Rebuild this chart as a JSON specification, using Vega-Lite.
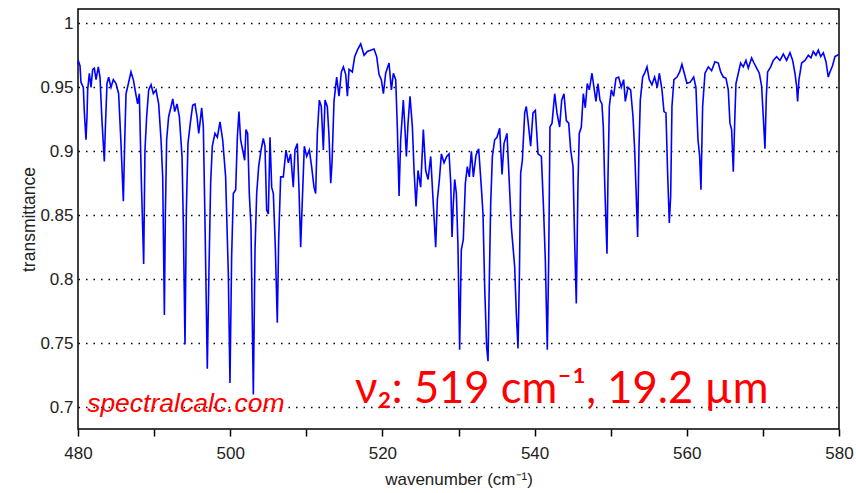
{
"$schema":"https://vega.github.io/schema/vega-lite/v6.json",
"width":761,"height":420,
"autosize":"none",
"padding":{"left":78,"top":9,"right":17,"bottom":64},
"background":"#ffffff",
"config":{"view":{"stroke":"#000000","strokeWidth":1.5},"font":"Liberation Sans"},
"encoding":{
 "x":{"field":"wn","type":"quantitative","scale":{"domain":[480,580],"nice":false},
  "axis":{"values":[480,490,500,510,520,530,540,550,560,570,580],"labelExpr":"datum.value % 20 === 0 ? datum.label : ''","labelOverlap":false,"labelFlush":false,"grid":false,"domain":false,"tickSize":7,"tickColor":"#000000","tickWidth":1.5,"labelFontSize":17,"labelColor":"#222222","labelPadding":9,"title":"wavenumber (cm⁻¹)","titleFontSize":17,"titleFontWeight":"normal","titleColor":"#222222","titlePadding":10}},
 "y":{"field":"t","type":"quantitative","scale":{"domain":[0.683,1.0112],"nice":false,"zero":false},
  "axis":{"values":[0.7,0.75,0.8,0.85,0.9,0.95,1],"format":"~g","grid":true,"gridDash":[1.5,6],"gridColor":"#000000","gridWidth":1.3,"ticks":false,"domain":false,"labelFontSize":17,"labelColor":"#222222","labelPadding":5,"title":"transmittance","titleFontSize":17.5,"titleFontWeight":"normal","titleColor":"#222222","titlePadding":1}}
},
"layer":[
{"data":{"values":[
{"wn":480.0,"t":0.968},{"wn":480.09,"t":0.970},{"wn":480.26,"t":0.967},{"wn":480.39,"t":0.954},{"wn":480.70,"t":0.950},{"wn":480.83,"t":0.931},{"wn":481.05,"t":0.909},{"wn":481.18,"t":0.927},{"wn":481.27,"t":0.948},{"wn":481.49,"t":0.961},{"wn":481.71,"t":0.950},{"wn":481.93,"t":0.964},{"wn":482.15,"t":0.965},{"wn":482.37,"t":0.956},{"wn":482.67,"t":0.966},{"wn":482.89,"t":0.958},{"wn":483.15,"t":0.924},{"wn":483.46,"t":0.892},{"wn":483.59,"t":0.917},{"wn":483.81,"t":0.953},{"wn":484.03,"t":0.958},{"wn":484.34,"t":0.950},{"wn":484.64,"t":0.956},{"wn":484.99,"t":0.953},{"wn":485.34,"t":0.945},{"wn":485.65,"t":0.906},{"wn":485.96,"t":0.861},{"wn":486.13,"t":0.906},{"wn":486.31,"t":0.945},{"wn":486.66,"t":0.954},{"wn":486.96,"t":0.962},{"wn":487.27,"t":0.956},{"wn":487.62,"t":0.944},{"wn":487.84,"t":0.937},{"wn":488.06,"t":0.945},{"wn":488.32,"t":0.878},{"wn":488.63,"t":0.812},{"wn":488.80,"t":0.901},{"wn":489.02,"t":0.927},{"wn":489.29,"t":0.948},{"wn":489.60,"t":0.952},{"wn":489.90,"t":0.945},{"wn":490.25,"t":0.948},{"wn":490.60,"t":0.937},{"wn":490.91,"t":0.909},{"wn":491.13,"t":0.880},{"wn":491.35,"t":0.772},{"wn":491.48,"t":0.851},{"wn":491.65,"t":0.909},{"wn":491.91,"t":0.927},{"wn":492.23,"t":0.935},{"wn":492.45,"t":0.941},{"wn":492.71,"t":0.931},{"wn":493.01,"t":0.937},{"wn":493.32,"t":0.927},{"wn":493.67,"t":0.896},{"wn":493.84,"t":0.844},{"wn":494.06,"t":0.749},{"wn":494.24,"t":0.854},{"wn":494.45,"t":0.906},{"wn":494.76,"t":0.922},{"wn":495.07,"t":0.936},{"wn":495.37,"t":0.937},{"wn":495.64,"t":0.927},{"wn":495.86,"t":0.914},
{"wn":496.03,"t":0.922},{"wn":496.25,"t":0.934},{"wn":496.47,"t":0.919},{"wn":496.69,"t":0.844},{"wn":496.99,"t":0.730},{"wn":497.21,"t":0.807},{"wn":497.43,"t":0.875},{"wn":497.65,"t":0.904},{"wn":498.00,"t":0.914},{"wn":498.31,"t":0.911},{"wn":498.66,"t":0.923},{"wn":499.01,"t":0.909},{"wn":499.40,"t":0.880},{"wn":499.75,"t":0.805},{"wn":499.97,"t":0.719},{"wn":500.19,"t":0.818},{"wn":500.41,"t":0.867},{"wn":500.72,"t":0.870},{"wn":500.94,"t":0.911},{"wn":501.15,"t":0.931},{"wn":501.37,"t":0.909},{"wn":501.64,"t":0.901},{"wn":501.90,"t":0.893},{"wn":502.07,"t":0.917},{"wn":502.29,"t":0.914},{"wn":502.51,"t":0.867},{"wn":502.73,"t":0.841},{"wn":503.04,"t":0.710},{"wn":503.26,"t":0.823},{"wn":503.48,"t":0.867},{"wn":503.74,"t":0.888},{"wn":504.05,"t":0.901},{"wn":504.35,"t":0.910},{"wn":504.57,"t":0.904},{"wn":504.79,"t":0.854},{"wn":505.01,"t":0.851},{"wn":505.23,"t":0.911},{"wn":505.45,"t":0.872},{"wn":505.67,"t":0.867},{"wn":505.93,"t":0.825},{"wn":506.19,"t":0.766},{"wn":506.37,"t":0.831},{"wn":506.63,"t":0.880},{"wn":506.98,"t":0.880},{"wn":507.33,"t":0.901},{"wn":507.64,"t":0.891},{"wn":507.94,"t":0.898},{"wn":508.29,"t":0.872},{"wn":508.51,"t":0.901},{"wn":508.82,"t":0.906},{"wn":509.04,"t":0.870},{"wn":509.26,"t":0.825},{"wn":509.48,"t":0.862},{"wn":509.74,"t":0.904},{"wn":510.05,"t":0.896},{"wn":510.40,"t":0.901},{"wn":510.70,"t":0.888},{"wn":511.01,"t":0.872},{"wn":511.23,"t":0.867},{"wn":511.45,"t":0.914},{"wn":511.71,"t":0.940},{"wn":511.97,"t":0.935},{"wn":512.24,"t":0.901},{"wn":512.46,"t":0.940},{"wn":512.76,"t":0.935},{"wn":512.99,"t":0.911},
{"wn":513.21,"t":0.875},{"wn":513.38,"t":0.891},{"wn":513.64,"t":0.939},{"wn":513.99,"t":0.958},{"wn":514.30,"t":0.943},{"wn":514.61,"t":0.962},{"wn":514.87,"t":0.966},{"wn":515.18,"t":0.960},{"wn":515.40,"t":0.943},{"wn":515.62,"t":0.964},{"wn":516.05,"t":0.962},{"wn":516.36,"t":0.974},{"wn":516.71,"t":0.979},{"wn":517.15,"t":0.984},{"wn":517.59,"t":0.975},{"wn":518.02,"t":0.978},{"wn":518.46,"t":0.979},{"wn":518.90,"t":0.980},{"wn":519.25,"t":0.974},{"wn":519.56,"t":0.960},{"wn":519.86,"t":0.956},{"wn":520.13,"t":0.945},{"wn":520.43,"t":0.961},{"wn":520.87,"t":0.969},{"wn":521.18,"t":0.948},{"wn":521.44,"t":0.961},{"wn":521.75,"t":0.956},{"wn":521.97,"t":0.917},{"wn":522.19,"t":0.865},{"wn":522.40,"t":0.909},{"wn":522.75,"t":0.940},{"wn":522.97,"t":0.917},{"wn":523.15,"t":0.896},{"wn":523.37,"t":0.922},{"wn":523.63,"t":0.943},{"wn":523.94,"t":0.919},{"wn":524.16,"t":0.885},{"wn":524.42,"t":0.857},{"wn":524.68,"t":0.885},{"wn":525.03,"t":0.872},{"wn":525.38,"t":0.917},{"wn":525.69,"t":0.885},{"wn":526.00,"t":0.878},{"wn":526.35,"t":0.896},{"wn":526.61,"t":0.867},{"wn":526.83,"t":0.844},{"wn":527.00,"t":0.825},{"wn":527.22,"t":0.862},{"wn":527.49,"t":0.878},{"wn":527.75,"t":0.898},{"wn":528.10,"t":0.891},{"wn":528.45,"t":0.896},{"wn":528.76,"t":0.898},{"wn":528.98,"t":0.875},
{"wn":529.15,"t":0.833},{"wn":529.32,"t":0.859},{"wn":529.50,"t":0.878},{"wn":529.72,"t":0.867},{"wn":529.93,"t":0.826},{"wn":530.15,"t":0.745},{"wn":530.37,"t":0.823},{"wn":530.63,"t":0.831},{"wn":530.90,"t":0.875},{"wn":531.16,"t":0.888},{"wn":531.42,"t":0.880},{"wn":531.69,"t":0.900},{"wn":531.95,"t":0.880},{"wn":532.30,"t":0.897},{"wn":532.65,"t":0.902},{"wn":533.00,"t":0.872},{"wn":533.22,"t":0.851},{"wn":533.44,"t":0.794},{"wn":533.70,"t":0.747},{"wn":533.88,"t":0.736},{"wn":534.05,"t":0.799},{"wn":534.23,"t":0.859},{"wn":534.45,"t":0.896},{"wn":534.75,"t":0.909},{"wn":535.06,"t":0.911},{"wn":535.41,"t":0.918},{"wn":535.72,"t":0.882},{"wn":535.98,"t":0.906},{"wn":536.37,"t":0.914},{"wn":536.64,"t":0.880},{"wn":536.94,"t":0.841},{"wn":537.38,"t":0.810},{"wn":537.60,"t":0.773},{"wn":537.82,"t":0.746},{"wn":538.00,"t":0.802},{"wn":538.17,"t":0.883},{"wn":538.39,"t":0.893},{"wn":538.70,"t":0.930},{"wn":538.91,"t":0.935},{"wn":539.13,"t":0.924},{"wn":539.48,"t":0.904},{"wn":539.79,"t":0.930},{"wn":540.10,"t":0.932},{"wn":540.45,"t":0.898},{"wn":540.89,"t":0.896},{"wn":541.15,"t":0.859},{"wn":541.41,"t":0.815},{"wn":541.67,"t":0.745},{"wn":541.85,"t":0.815},{"wn":542.02,"t":0.919},{"wn":542.29,"t":0.922},{"wn":542.64,"t":0.945},{"wn":542.94,"t":0.930},{"wn":543.29,"t":0.919},{"wn":543.56,"t":0.940},{"wn":543.86,"t":0.945},{"wn":544.17,"t":0.924},{"wn":544.48,"t":0.922},{"wn":544.74,"t":0.901},{"wn":545.05,"t":0.888},{"wn":545.26,"t":0.830},{"wn":545.48,"t":0.781},
{"wn":545.70,"t":0.875},{"wn":545.87,"t":0.914},{"wn":546.14,"t":0.919},{"wn":546.40,"t":0.945},{"wn":546.66,"t":0.934},{"wn":546.92,"t":0.953},{"wn":547.19,"t":0.948},{"wn":547.54,"t":0.961},{"wn":547.80,"t":0.950},{"wn":548.06,"t":0.939},{"wn":548.33,"t":0.953},{"wn":548.59,"t":0.940},{"wn":548.85,"t":0.937},{"wn":549.03,"t":0.919},{"wn":549.20,"t":0.878},{"wn":549.38,"t":0.844},{"wn":549.51,"t":0.820},{"wn":549.64,"t":0.878},{"wn":549.82,"t":0.935},{"wn":550.08,"t":0.948},{"wn":550.38,"t":0.943},{"wn":550.69,"t":0.957},{"wn":551.04,"t":0.958},{"wn":551.39,"t":0.950},{"wn":551.70,"t":0.956},{"wn":551.92,"t":0.939},{"wn":552.27,"t":0.950},{"wn":552.62,"t":0.948},{"wn":552.93,"t":0.927},{"wn":553.15,"t":0.901},{"wn":553.32,"t":0.872},{"wn":553.54,"t":0.833},{"wn":553.71,"t":0.901},{"wn":553.89,"t":0.940},{"wn":554.20,"t":0.958},{"wn":554.46,"t":0.961},{"wn":554.77,"t":0.966},{"wn":555.07,"t":0.956},{"wn":555.42,"t":0.952},{"wn":555.77,"t":0.958},{"wn":556.12,"t":0.950},{"wn":556.39,"t":0.961},{"wn":556.74,"t":0.948},{"wn":557.00,"t":0.931},{"wn":557.26,"t":0.930},{"wn":557.48,"t":0.883},{"wn":557.70,"t":0.844},{"wn":557.88,"t":0.865},{"wn":558.05,"t":0.935},{"wn":558.31,"t":0.956},{"wn":558.71,"t":0.958},{"wn":559.06,"t":0.962},{"wn":559.36,"t":0.968},{"wn":559.67,"t":0.961},{"wn":560.02,"t":0.953},{"wn":560.46,"t":0.954},{"wn":560.90,"t":0.958},{"wn":561.20,"t":0.950},{"wn":561.47,"t":0.909},{"wn":561.69,"t":0.896},{"wn":561.86,"t":0.870},
{"wn":562.08,"t":0.935},{"wn":562.39,"t":0.961},{"wn":562.83,"t":0.966},{"wn":563.26,"t":0.963},{"wn":563.70,"t":0.970},{"wn":564.14,"t":0.969},{"wn":564.45,"t":0.962},{"wn":564.80,"t":0.958},{"wn":565.15,"t":0.957},{"wn":565.45,"t":0.948},{"wn":565.67,"t":0.922},{"wn":565.89,"t":0.917},{"wn":566.11,"t":0.884},{"wn":566.29,"t":0.922},{"wn":566.46,"t":0.953},{"wn":566.77,"t":0.961},{"wn":567.07,"t":0.969},{"wn":567.42,"t":0.966},{"wn":567.77,"t":0.971},{"wn":568.08,"t":0.965},{"wn":568.52,"t":0.973},{"wn":568.83,"t":0.969},{"wn":569.18,"t":0.965},{"wn":569.53,"t":0.961},{"wn":569.83,"t":0.951},{"wn":570.05,"t":0.927},{"wn":570.27,"t":0.902},{"wn":570.45,"t":0.943},{"wn":570.62,"t":0.962},{"wn":571.02,"t":0.966},{"wn":571.37,"t":0.971},{"wn":571.80,"t":0.974},{"wn":572.24,"t":0.971},{"wn":572.68,"t":0.976},{"wn":573.12,"t":0.971},{"wn":573.56,"t":0.977},{"wn":573.91,"t":0.971},{"wn":574.21,"t":0.961},{"wn":574.43,"t":0.951},{"wn":574.56,"t":0.939},{"wn":574.74,"t":0.956},{"wn":575.09,"t":0.969},{"wn":575.53,"t":0.971},{"wn":575.97,"t":0.975},{"wn":576.32,"t":0.973},{"wn":576.62,"t":0.978},{"wn":576.97,"t":0.975},{"wn":577.28,"t":0.979},{"wn":577.59,"t":0.974},{"wn":577.94,"t":0.977},{"wn":578.29,"t":0.970},{"wn":578.59,"t":0.958},{"wn":578.81,"t":0.962},{"wn":579.16,"t":0.967},{"wn":579.47,"t":0.974},{"wn":579.78,"t":0.975},{"wn":580.0,"t":0.976}
]},
"mark":{"type":"line","color":"#0000ff","strokeWidth":1.6}},
{"data":{"values":[{"wn":481.2,"t":0.6962,"label":"spectralcalc.com"}]},
 "mark":{"type":"text","align":"left","baseline":"alphabetic","font":"Liberation Sans","fontStyle":"italic","fontSize":26.5,"color":"#ff0000"},
 "encoding":{"text":{"field":"label","type":"nominal"}}},
{"data":{"values":[{"wn":516.4,"t":0.7035,"label":"ν₂: 519 cm⁻¹, 19.2 µm"}]},
 "mark":{"type":"text","align":"left","baseline":"alphabetic","font":"Lato","fontSize":43.5,"color":"#ff0000"},
 "encoding":{"text":{"field":"label","type":"nominal"}}}
]
}
